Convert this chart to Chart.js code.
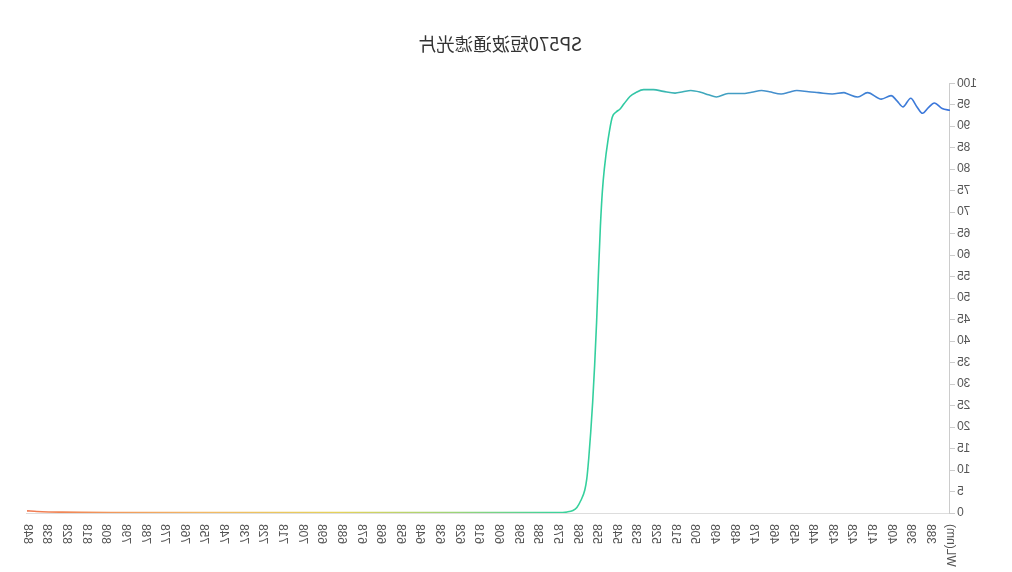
<!DOCTYPE html>
<html>
<head>
<meta charset="utf-8">
<script src="https://cdn.jsdelivr.net/npm/chart.js@4/dist/chart.umd.min.js"></script>
<style>
  html, body { margin: 0; padding: 0; background: #fff; }
  #box { width: 1012px; height: 572px; position: relative; }
  #mychart_line { transform: scaleX(-1); }
</style>
</head>
<body>
<div id="box"><canvas id="mychart_line"></canvas></div>
<script>
// comprimento de onda (nm) e transmitancia (%)
const comprimento = [378, 382, 386, 389, 392, 395, 398, 402, 405, 408, 413, 420, 425, 430, 432, 438, 445, 450, 456, 460, 464, 470, 474, 479, 484, 491, 497, 501, 505, 510, 514, 518, 524, 529, 534, 538, 541, 544, 546, 548, 550, 552, 554, 555, 556, 557, 558, 559, 560, 561, 562, 563, 564, 566, 568, 570, 573, 578, 600, 650, 700, 750, 800, 820, 830, 837, 843, 848]
const transmitancia = [93.7, 94.1, 95.4, 94.3, 93.0, 94.6, 96.5, 94.5, 95.9, 97.1, 96.3, 97.8, 96.8, 97.5, 97.8, 97.5, 97.8, 98.0, 98.3, 97.9, 97.5, 98.0, 98.3, 97.9, 97.6, 97.6, 96.8, 97.3, 97.9, 98.3, 98.0, 97.7, 98.1, 98.5, 98.5, 97.8, 96.9, 95.2, 94.0, 93.3, 92.1, 87.2, 80.2, 75.0, 67.0, 56.0, 44.0, 34.0, 25.5, 18.5, 12.5, 7.8, 5.3, 2.9, 1.3, 0.6, 0.25, 0.1, 0.1, 0.1, 0.1, 0.1, 0.12, 0.15, 0.2, 0.25, 0.35, 0.5]

const labels_x = ['WL(nm)', '388', '398', '408', '418', '428', '438', '448', '458', '468', '478', '488', '498', '508', '518', '528', '538', '548', '558', '568', '578', '588', '598', '608', '618', '628', '638', '648', '658', '668', '678', '688', '698', '708', '718', '728', '738', '748', '758', '768', '778', '788', '798', '808', '818', '828', '838', '848']
const labels_y = ['0', '5', '10', '15', '20', '25', '30', '35', '40', '45', '50', '55', '60', '65', '70', '75', '80', '85', '90', '95', '100']

const titulo = 'SP570短波通滤光片'
const azul = '#3a74dc'
const cinza = '#555'
const fonte = '"Liberation Sans", Arial, sans-serif'

const espectro = (context) => {
    const chart = context.chart
    const area = chart.chartArea
    if (!area) return azul
    const g = chart.ctx.createLinearGradient(area.left, 0, area.right, 0)
    g.addColorStop(0, azul)
    g.addColorStop(0.196, '#4590cc')
    g.addColorStop(0.302, '#3cb4b4')
    g.addColorStop(0.362, '#2ecda0')
    g.addColorStop(0.43, '#3fd49a')
    g.addColorStop(0.536, '#9bd578')
    g.addColorStop(0.664, '#e5d25a')
    g.addColorStop(0.813, '#f3b865')
    g.addColorStop(1, '#f07a52')
    return g
}

const pontos = comprimento.map((x, i) => ({ x: x, y: transmitancia[i] }))

const data = {
    datasets: [
        {
            label: titulo,
            data: pontos,
            fill: false,
            borderColor: espectro,
            borderWidth: 1.6,
            pointRadius: 0,
            cubicInterpolationMode: 'monotone'
        }
    ]
}

const config = {
    type: 'line',
    data: data,
    options: {
        responsive: true,
        maintainAspectRatio: false,
        animation: false,
        layout: { padding: { left: 12, right: 0, top: 0, bottom: 0 } },
        plugins: {
            legend: { display: false },
            tooltip: { enabled: false },
            title: {
                display: true,
                text: titulo,
                color: '#333',
                font: { size: 18.5, family: '"Noto Sans CJK SC", "Noto Sans", sans-serif', weight: 'normal' },
                padding: { top: 33, bottom: 28 }
            }
        },
        scales: {
            x: {
                type: 'linear',
                min: 378,
                max: 848,
                grid: { display: false },
                border: { color: '#ddd' },
                afterFit: (scale) => {
                    scale.height = 59
                    scale.paddingRight = 27
                },
                afterBuildTicks: (scale) => {
                    scale.ticks = labels_x.map((t, i) => ({ value: 378 + i * 10 }))
                },
                ticks: {
                    autoSkip: false,
                    minRotation: 90,
                    maxRotation: 90,
                    padding: 3,
                    color: cinza,
                    font: { size: 12, family: fonte },
                    callback: (v, i) => labels_x[i]
                }
            },
            y: {
                min: 0,
                max: 100,
                grid: { drawOnChartArea: false, tickLength: 5, color: '#ccc' },
                border: { color: '#ccc' },
                afterFit: (scale) => { scale.width = 50 },
                afterBuildTicks: (scale) => {
                    scale.ticks = labels_y.map((t) => ({ value: Number(t) }))
                },
                ticks: {
                    padding: 2,
                    color: cinza,
                    font: { size: 12, family: fonte },
                    callback: (v, i) => labels_y[i]
                }
            }
        }
    }
}

const myChart = new Chart(
    document.querySelector('#mychart_line'),
    config,
)
</script>
</body>
</html>
